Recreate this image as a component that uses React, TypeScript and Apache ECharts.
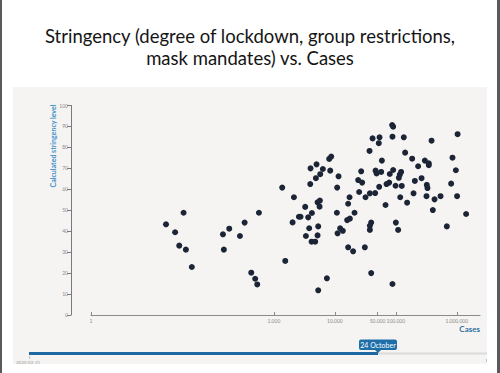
import React, { useEffect, useRef } from "react";
import * as echarts from "echarts";

const titleText = "Stringency (degree of lockdown, group restrictions,\nmask mandates) vs. Cases";
const xName = "Cases";
const yName = "Calculated stringency level";
const xTickValues = [1, 1000, 10000, 50000, 100000, 1000000];
const sliderLabel = "24 October";
const sliderStart = "2020-02-21";

const cases = [
  17, 33, 24, 28, 36, 45, 146, 185, 151, 331, 277, 568, 425, 493, 533,
  1368, 1535, 2130, 3260, 2570, 2735, 2025, 3650, 4200, 3990, 5000, 6350, 5750, 4885, 3945,
  8070, 8710, 8390, 11480, 10900, 5200, 5680, 5610, 10790, 3790, 5330, 3350, 5200, 4150, 4755,
  12200, 13500, 11060, 7400, 5330,
  86900, 90300, 41500, 54000, 52500, 88000, 135000, 37000, 142000, 59000, 27000, 46500, 48300,
  57500, 90300, 79500, 122000, 116000, 112000, 24100, 28000, 77700, 70300, 53300, 98900, 125000,
  25000, 37500, 31800, 45800, 118000, 153000, 17400, 16500, 67700, 21000, 17600, 15900, 39400,
  37500, 100000, 37500, 109000, 16500, 19900, 31000, 39400, 88000,
  1030000, 385000, 185000, 232000, 299000, 347000, 347000, 849000, 964000, 205000, 264000,
  322000, 330000, 807000, 195000, 318000, 431000, 541000, 1010000, 404000, 1420000, 686000,
];
const stringency = [
  43.3, 48.8, 39.5, 33.1, 31.2, 22.9, 38.5, 41.2, 31.2, 44.1, 37.7, 48.8, 20.2, 17.3, 14.6,
  60.8, 25.8, 56.2, 51.6, 46.9, 46.9, 44.2, 46.6, 48.7, 70.0, 71.9, 69.7, 67.2, 65.3, 62.5,
  74.5, 75.6, 68.9, 66.2, 60.8, 53.8, 54.6, 51.7, 48.8, 41.4, 42.3, 37.7, 38.0, 35.0, 35.0,
  41.4, 40.2, 39.0, 17.5, 11.8,
  90.7, 89.9, 84.3, 84.8, 82.0, 85.1, 84.8, 78.3, 77.5, 73.7, 68.6, 68.9, 67.6,
  68.3, 69.2, 67.3, 68.3, 67.0, 65.5, 64.4, 63.2, 63.2, 62.5, 61.2, 61.7, 61.6,
  58.7, 58.1, 56.2, 58.2, 56.2, 53.6, 56.2, 53.1, 52.5, 48.8, 46.0, 45.3, 44.1,
  42.6, 44.1, 40.6, 40.6, 32.3, 30.4, 32.3, 20.0, 14.8,
  86.3, 83.2, 74.6, 71.0, 73.7, 72.4, 71.5, 75.1, 69.1, 64.0, 65.3,
  62.1, 60.6, 62.7, 58.1, 56.7, 55.2, 56.7, 56.7, 50.1, 48.2, 42.3,
];

const fmt = (v: number) => {
  const n = Math.round(v);
  return String(n).replace(/\B(?=(\d{3})+(?!\d))/g, ".");
};

export default function App() {
  const ref = useRef<HTMLDivElement>(null);
  useEffect(() => {
    if (!ref.current) return;
    const chart = echarts.init(ref.current, null, { renderer: "svg" });
    const data = cases.map((c, i) => [c, stringency[i]]);
    chart.setOption({
      animation: false,
      backgroundColor: "#ffffff",
      title: {
        text: titleText,
        left: "center",
        top: 20,
        textStyle: {
          fontFamily: "Lato",
          fontSize: 18.5,
          fontWeight: "normal",
          color: "#151515",
          lineHeight: 22,
        },
      },
      graphic: [
        { type: "rect", z: -10, shape: { x: 13, y: 87, width: 474, height: 277 }, style: { fill: "#f6f4f3" } },
        { type: "rect", z: -5, shape: { x: 0, y: 0, width: 2, height: 373 }, style: { fill: "#5a5a5a" } },
        { type: "rect", z: -5, shape: { x: 497, y: 0, width: 3, height: 373 }, style: { fill: "#5a5a5a" } },
        {
          type: "text",
          x: 53,
          y: 146,
          rotation: Math.PI / 2,
          style: {
            text: yName,
            fontFamily: "Lato",
            fontSize: 7,
            fontWeight: "bold",
            fill: "#3b90c8",
            align: "center",
            verticalAlign: "middle",
          },
        },
        { type: "rect", shape: { x: 30, y: 352.5, width: 457, height: 2 }, style: { fill: "#dadada" } },
        { type: "rect", shape: { x: 29, y: 352, width: 349, height: 3 }, style: { fill: "#1f67a0" } },
        { type: "rect", shape: { x: 359, y: 339.5, width: 38, height: 10.5, r: 2 }, style: { fill: "#1e6ea8" } },
        { type: "polygon", shape: { points: [[375, 350], [381, 350], [378, 353]] }, style: { fill: "#1e6ea8" } },
        {
          type: "text",
          x: 378,
          y: 345,
          style: {
            text: sliderLabel,
            fontFamily: "Lato",
            fontSize: 7,
            fill: "#ffffff",
            align: "center",
            verticalAlign: "middle",
          },
        },
        {
          type: "text",
          x: 16,
          y: 362,
          style: { text: sliderStart, fontFamily: "Lato", fontSize: 4.5, fill: "#9a9a9a", verticalAlign: "middle" },
        },
        { type: "rect", shape: { x: 29.5, y: 356, width: 0.6, height: 3 }, style: { fill: "#999" } },
        { type: "rect", shape: { x: 486, y: 359, width: 0.6, height: 3 }, style: { fill: "#999" } },
      ],
      grid: { left: 91, right: 20, top: 105.5, bottom: 58, containLabel: false },
      xAxis: {
        type: "log",
        logBase: 10,
        min: 1,
        max: 2400000,
        name: xName,
        nameLocation: "end",
        nameGap: 0,
        nameTextStyle: {
          fontFamily: "Lato",
          fontSize: 8,
          fontWeight: "bold",
          color: "#2f6f9f",
          align: "right",
          verticalAlign: "top",
          padding: [10, 0, 0, 0],
        },
        axisLine: { show: true, lineStyle: { color: "#8a8a8a", width: 1 } },
        axisTick: { show: true, inside: true, length: 3, lineStyle: { color: "#8a8a8a" }, customValues: xTickValues },
        axisLabel: {
          show: true,
          customValues: xTickValues,
          formatter: (v: number) => fmt(v),
          fontFamily: "Lato",
          fontSize: 5,
          color: "#8a8a8a",
          margin: 3,
        },
        splitLine: { show: false },
        minorTick: { show: false },
      },
      yAxis: {
        type: "value",
        min: 0,
        max: 100,
        interval: 10,
        offset: 20,
        axisLine: { show: true, lineStyle: { color: "#7a7a7a", width: 1 } },
        axisTick: { show: true, length: 4, lineStyle: { color: "#7a7a7a" } },
        axisLabel: { fontFamily: "Lato", fontSize: 5, color: "#8a8a8a", margin: 3 },
        splitLine: { show: false },
      },
      series: [
        {
          type: "scatter",
          data,
          symbol: "circle",
          symbolSize: 6,
          itemStyle: { color: "#1b2536", opacity: 1 },
        },
      ],
    });
    return () => chart.dispose();
  }, []);
  return <div ref={ref} style={{ position: "fixed", left: 0, top: 0, width: 500, height: 373 }} />;
}
